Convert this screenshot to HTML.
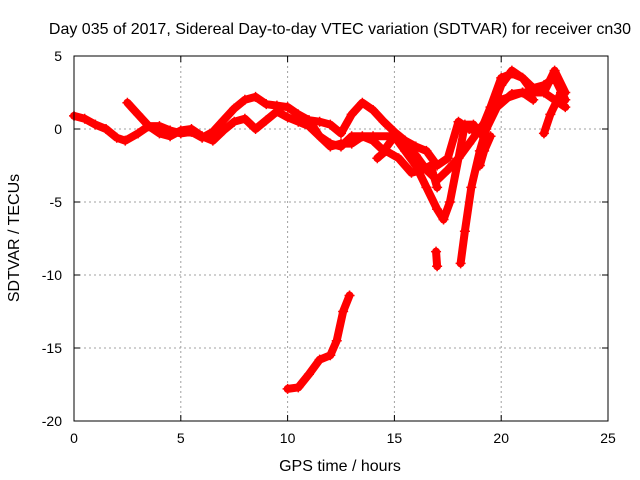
<!DOCTYPE html>
<html><head><meta charset="utf-8"><style>
body{margin:0;background:#fff}
svg{display:block;font-family:"Liberation Sans",sans-serif;font-size:14px}
.big{font-size:16px}
</style></head><body>
<svg id="chart" width="640" height="480" viewBox="0 0 640 480">
<text class="big" x="340" y="34" text-anchor="middle">Day 035 of 2017, Sidereal Day-to-day VTEC variation (SDTVAR) for receiver cn30</text>
<text class="big" x="340" y="471" text-anchor="middle">GPS time / hours</text>
<text class="big" transform="translate(19,238) rotate(-90)" text-anchor="middle">SDTVAR / TECUs</text>
<g id="grid"></g>
<g id="ticks"></g>
<g id="series"></g>
<rect x="74" y="56" width="534" height="365" fill="none" stroke="#000" stroke-width="1"/>
</svg>
<script>
const xTicks=[0,5,10,15,20,25];
const yTicks=[5,0,-5,-10,-15,-20];
const track1=[[0,0.9],[0.5,0.7],[1,0.3],[1.5,0],[2,-0.6],[2.4,-0.8],[3,-0.3],[3.5,0.2],[4,0.2],[4.5,-0.1],[5,-0.3],[5.5,-0.2],[6,-0.6],[6.5,-0.2],[7,0.6],[7.5,1.4],[8,2.0],[8.5,2.2],[9,1.7],[9.5,1.6],[10,1.5],[10.5,1.0],[11,0.6],[11.5,0.5],[12,0.3],[12.5,-0.3],[13,1.0],[13.5,1.8],[14,1.3],[14.5,0.5],[15,-0.2],[15.5,-0.8],[16,-1.2],[16.5,-1.5],[17,-2.5],[17.5,-2.0],[18,0.5],[18.5,0],[19,-0.2],[19.5,1.0],[20,3],[20.5,4],[21,3.5],[21.5,2.5],[22,2.5],[22.5,4],[23,2.5]];
const track2=[[2.5,1.8],[3,1],[3.5,0.2],[4,-0.3],[4.5,-0.5],[5,-0.1],[5.5,0],[6,-0.5],[6.5,-0.8],[7,-0.1],[7.5,0.5],[8,0.7],[8.5,0.0],[9,0.6],[9.5,1.2],[10,0.8],[10.5,0.5],[11,0.2],[11.5,-0.5],[12,-1.2],[12.5,-1.0],[13,-1.0],[13.5,-0.5],[14,-0.8],[14.5,-1.5],[15,-0.5],[15.5,-1.5],[16,-2.5],[16.5,-4],[17,-5.5],[17.3,-6.2],[17.6,-5],[18,-2],[18.3,0.3],[18.7,0.3],[19,-0.3],[19.5,1.5],[20,3.5],[20.5,3.8],[21,3.5],[21.5,2.8],[22,3],[22.5,3.5],[23,2]];
const track3=[[11,0.6],[11.5,-0.5],[12,-1],[12.5,-1.2],[13,-0.5],[14,-0.5],[15,-0.5],[15.5,-1.0],[16,-1.8],[16.5,-2.8],[17,-3.5],[17.5,-2.8],[18,-2],[18.5,-1],[19,0],[19.5,1],[20,2],[21,2.5],[22,2.5],[23,1.5]];
const track4=[[18.1,-9.2],[18.3,-7],[18.6,-4],[19,-1.5],[19.3,0],[19.8,1.5],[20.5,2.4],[21,2.5],[21.5,2.0]];
const track5=[[14.2,-2.0],[14.6,-1.5],[15.2,-2.0],[15.8,-3.0],[16.3,-2.8],[16.7,-2.5],[17,-4]];
const track6=[[16.95,-8.4],[17,-9.4]];
const track7=[[19,-2.5],[19.2,-1.5],[19.5,-0.5]];
const track8=[[22,-0.3],[22.3,1],[22.8,2.5]];
const track9=[[10,-17.8],[10.5,-17.7],[11,-16.8],[11.5,-15.8],[12,-15.5],[12.3,-14.5],[12.6,-12.5],[12.9,-11.4]];
const tracks=[track1,track2,track3,track4,track5,track6,track7,track8,track9];
const NS='http://www.w3.org/2000/svg';
const X=h=>74+h*534/25, Y=v=>56+(5-v)*365/25;
const grid=document.getElementById('grid'),ticks=document.getElementById('ticks'),ser=document.getElementById('series');
function mk(tag,attrs,parent){const e=document.createElementNS(NS,tag);for(const k in attrs)e.setAttribute(k,attrs[k]);parent.appendChild(e);return e;}
xTicks.forEach(t=>{
  const x=X(t);
  if(t>0&&t<25){const g=mk('line',{x1:x,x2:x,y1:56,y2:421,stroke:'#a0a0a0','stroke-dasharray':'2,3'},grid);
  
  }
  mk('line',{x1:x,x2:x,y1:421,y2:415,stroke:'#000'},ticks);
  mk('line',{x1:x,x2:x,y1:56,y2:62,stroke:'#000'},ticks);
  const l=mk('text',{x:x,y:443,'text-anchor':'middle'},ticks);l.textContent=t;
  
  
});
yTicks.forEach(t=>{
  const y=Y(t);
  if(t<5&&t>-20){const g=mk('line',{x1:74,x2:608,y1:y,y2:y,stroke:'#a0a0a0','stroke-dasharray':'2,3'},grid);
  
  }
  mk('line',{x1:74,x2:80,y1:y,y2:y,stroke:'#000'},ticks);
  mk('line',{x1:608,x2:602,y1:y,y2:y,stroke:'#000'},ticks);
  const l=mk('text',{x:62,y:y+5,'text-anchor':'end'},ticks);l.textContent=t;
  
  
});
tracks.forEach((tr,i)=>{
  const p=mk('polyline',{points:tr.map(d=>X(d[0])+','+Y(d[1])).join(' '),fill:'none',stroke:'#ff0000','stroke-width':8,'stroke-linejoin':'round','stroke-linecap':'round'},ser);
  
  
  tr.forEach(d=>{
    const x=X(d[0]),y=Y(d[1]);
    const m=mk('path',{d:`M${x-5},${y}h10M${x},${y-5}v10`,stroke:'#ff0000','stroke-width':1.5},ser);
    
    
  });
});
</script>
</body></html>
